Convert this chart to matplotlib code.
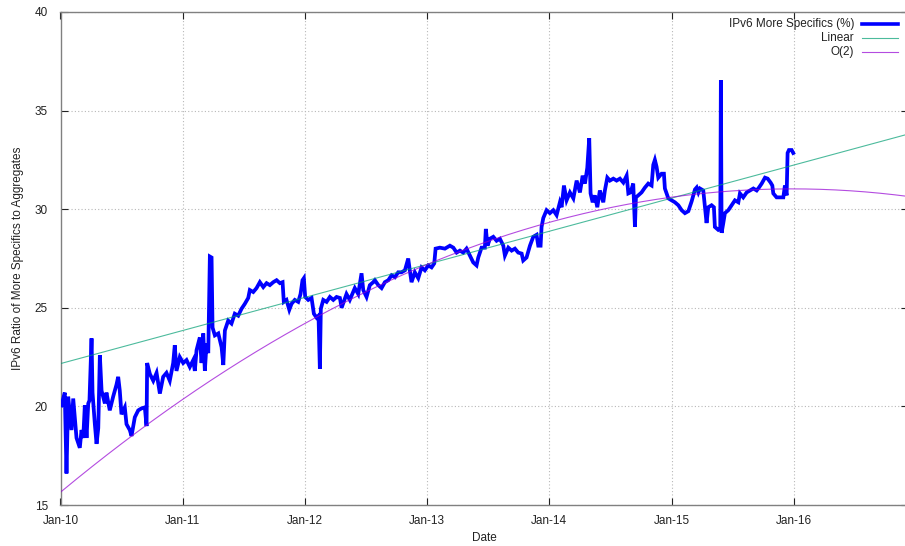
import matplotlib
matplotlib.use("Agg")
import matplotlib.pyplot as plt
import numpy as np
from matplotlib.lines import Line2D

plt.rcParams['font.family'] = ['Liberation Sans', 'DejaVu Sans']

# Ratio of IPv6 more-specific prefixes to aggregates (%), by decimal year
years = [
    2010.008, 2010.035, 2010.049, 2010.063, 2010.090, 2010.104, 2010.131, 2010.158,
    2010.172, 2010.186, 2010.199, 2010.213, 2010.227, 2010.237, 2010.254, 2010.262,
    2010.281, 2010.295, 2010.309, 2010.322, 2010.336, 2010.363, 2010.376, 2010.403,
    2010.431, 2010.458, 2010.472, 2010.485, 2010.499, 2010.526, 2010.540, 2010.567,
    2010.581, 2010.608, 2010.636, 2010.663, 2010.690, 2010.704, 2010.709, 2010.731,
    2010.759, 2010.786, 2010.813, 2010.840, 2010.867, 2010.894, 2010.922, 2010.935,
    2010.949, 2010.976, 2011.004, 2011.031, 2011.058, 2011.086, 2011.099,
    2011.113, 2011.140, 2011.154, 2011.168, 2011.181, 2011.195, 2011.209, 2011.222,
    2011.236, 2011.244, 2011.263, 2011.291, 2011.318, 2011.332, 2011.345, 2011.372,
    2011.399, 2011.426, 2011.454, 2011.481, 2011.508, 2011.536, 2011.549, 2011.577,
    2011.604, 2011.631, 2011.659, 2011.686, 2011.713, 2011.741, 2011.768, 2011.795,
    2011.817, 2011.827, 2011.849, 2011.872, 2011.890, 2011.917, 2011.945, 2011.964,
    2011.980, 2011.991, 2012.002, 2012.027, 2012.054, 2012.073, 2012.095, 2012.111,
    2012.122, 2012.130, 2012.150, 2012.177, 2012.204, 2012.232, 2012.259, 2012.286,
    2012.300, 2012.340, 2012.367, 2012.408, 2012.436, 2012.463, 2012.477, 2012.504,
    2012.531, 2012.559, 2012.572, 2012.600, 2012.627, 2012.654, 2012.682, 2012.709,
    2012.736, 2012.763, 2012.790, 2012.818, 2012.845, 2012.858, 2012.872, 2012.899,
    2012.927, 2012.954, 2012.981, 2013.009, 2013.036, 2013.058, 2013.069, 2013.104,
    2013.145, 2013.186, 2013.214, 2013.241, 2013.268, 2013.295, 2013.322, 2013.349,
    2013.377, 2013.404, 2013.418, 2013.445, 2013.472, 2013.480, 2013.494,
    2013.513, 2013.541, 2013.568, 2013.595, 2013.623, 2013.636, 2013.664, 2013.691,
    2013.718, 2013.745, 2013.773, 2013.786, 2013.813, 2013.841, 2013.868, 2013.895,
    2013.909, 2013.928, 2013.936, 2013.950, 2013.977, 2014.004, 2014.032, 2014.059,
    2014.086, 2014.100, 2014.119, 2014.141, 2014.168, 2014.196, 2014.223, 2014.250,
    2014.272, 2014.291, 2014.310, 2014.326, 2014.337, 2014.354, 2014.372, 2014.392,
    2014.413, 2014.441, 2014.454, 2014.474, 2014.495, 2014.523, 2014.550, 2014.577,
    2014.605, 2014.632, 2014.646, 2014.664, 2014.686, 2014.700, 2014.708,
    2014.727, 2014.754, 2014.782, 2014.809, 2014.836, 2014.850, 2014.863, 2014.877,
    2014.891, 2014.918, 2014.937, 2014.945, 2014.973, 2015.000, 2015.027, 2015.055,
    2015.082, 2015.109, 2015.137, 2015.164, 2015.191, 2015.205, 2015.219, 2015.232,
    2015.259, 2015.273, 2015.286, 2015.300, 2015.327, 2015.346, 2015.354, 2015.382,
    2015.398, 2015.403, 2015.409, 2015.423, 2015.436, 2015.464, 2015.491, 2015.518,
    2015.546, 2015.559, 2015.586, 2015.614, 2015.641, 2015.669, 2015.696, 2015.715,
    2015.737, 2015.764, 2015.786, 2015.810, 2015.824, 2015.832, 2015.859, 2015.886,
    2015.914, 2015.927, 2015.941, 2015.949, 2015.960, 2015.982, 2015.995,
]
ratio = [
    20.05, 20.7, 16.6, 20.5, 18.8, 20.4, 18.4, 17.9,
    18.8, 18.4, 20.05, 18.4, 20.15, 20.3, 23.45, 20.7,
    19.1, 18.1, 18.9, 22.6, 20.8, 20.15, 20.7, 19.8,
    20.5, 21.1, 21.5, 20.8, 19.6, 19.95, 19.1, 18.8,
    18.5, 19.45, 19.8, 19.9, 19.95, 19.0, 22.2, 21.65,
    21.3, 21.7, 20.65, 21.5, 21.7, 21.3, 22.2, 23.1,
    21.8, 22.5, 22.2, 22.35, 22.0, 22.35, 21.8,
    22.85, 23.5, 22.2, 23.7, 21.8, 23.2, 22.7, 27.6,
    27.55, 24.0, 23.6, 23.7, 23.0, 22.1, 23.85, 24.35,
    24.2, 24.7, 24.6, 24.95, 25.2, 25.5, 25.9, 25.8,
    26.0, 26.3, 26.05, 26.25, 26.15, 26.3, 26.4, 26.25,
    26.3, 25.3, 25.4, 24.9, 25.2, 25.4, 25.3, 25.7,
    26.4, 26.5, 25.55, 25.4, 25.5, 24.7, 24.5, 24.6,
    21.9, 24.95, 25.4, 25.3, 25.55, 25.4, 25.55, 25.5,
    25.0, 25.7, 25.4, 26.0, 25.7, 26.75, 25.9, 25.55,
    26.15, 26.3, 26.4, 26.15, 26.0, 26.3, 26.4, 26.65,
    26.55, 26.8, 26.8, 26.9, 27.5, 26.9, 26.3, 26.8,
    26.5, 27.05, 26.9, 27.15, 27.05, 27.25, 28.0, 28.05,
    28.0, 28.15, 28.05, 27.8, 27.9, 27.8, 28.0, 27.65,
    27.3, 27.15, 27.55, 28.05, 28.05, 29.0, 28.15,
    28.5, 28.6, 28.4, 28.5, 28.15, 27.65, 28.05, 27.9,
    28.0, 27.8, 27.75, 27.4, 27.55, 28.15, 28.6, 28.7,
    28.15, 28.15, 29.1, 29.55, 29.95, 29.8, 29.95, 29.7,
    30.35, 30.1, 31.2, 30.45, 30.85, 30.55, 31.45, 30.85,
    31.7, 31.3, 32.1, 33.6, 30.8, 30.35, 30.7, 30.1,
    30.95, 30.35, 30.95, 31.6, 31.45, 31.55, 31.45, 31.55,
    31.35, 31.7, 30.8, 30.85, 31.3, 29.1, 30.6,
    30.7, 30.85, 31.1, 31.3, 31.2, 32.25, 32.5, 32.15,
    31.6, 31.8, 31.8, 31.05, 30.55, 30.45, 30.35, 30.2,
    29.95, 29.8, 29.9, 30.4, 31.0, 31.1, 30.85, 31.05,
    30.95, 30.1, 29.3, 30.1, 30.2, 30.1, 29.1, 28.95,
    29.0, 36.55, 28.8, 29.3, 29.8, 29.95, 30.2, 30.45,
    30.35, 30.8, 30.6, 30.85, 30.95, 31.05, 30.95, 31.1,
    31.3, 31.6, 31.55, 31.35, 31.2, 30.8, 30.6, 30.6,
    30.6, 31.2, 30.7, 32.85, 33.0, 33.0, 32.85,
]

# Fitted trends: linear ends and three points on the quadratic
x_start, x_end = 2010.0, 2016.93
linear_ends = [22.17, 33.8]
quad_years = [2010.0, 2013.0, 2016.93]
quad_vals = [15.65, 27.2, 30.65]

tick_years = [2010, 2011, 2012, 2013, 2014, 2015, 2016]
tick_labels = ['Jan-10', 'Jan-11', 'Jan-12', 'Jan-13', 'Jan-14', 'Jan-15', 'Jan-16']
y_ticks = [15, 20, 25, 30, 35, 40]

fig = plt.figure(figsize=(9.05, 5.46), dpi=100)
ax = fig.add_axes([60.5 / 905, 41 / 546, 847 / 905, 493 / 546])

blue = '#0000ff'
green = '#009e73'
purple = '#9400d3'

xs = np.linspace(x_start, x_end, 400)
lin = np.polyfit([x_start, x_end], linear_ends, 1)
quad = np.polyfit(np.array(quad_years) - 2010, quad_vals, 2)

ax.plot(years, ratio, color=blue, lw=2.7, solid_joinstyle='miter', zorder=3)
ax.plot(xs, np.polyval(lin, xs), color=green, lw=0.8, alpha=0.7, zorder=4)
ax.plot(xs, np.polyval(quad, xs - 2010), color=purple, lw=0.8, alpha=0.7, zorder=4)

ax.set_xlim(x_start, x_end)
ax.set_ylim(15, 40)
ax.set_xticks(tick_years)
ax.set_xticklabels(tick_labels)
ax.set_yticks(y_ticks)

ax.grid(True, color='#b8b8b8', linestyle=(0, (1, 2)), linewidth=0.8)
ax.set_axisbelow(True)
for side in ('left', 'bottom', 'top', 'right'):
    ax.spines[side].set_color('#808080')
    ax.spines[side].set_linewidth(1.0)
ax.tick_params(direction='in', length=5, width=0.8, color='#222222',
               top=True, right=True, labelsize=8.5, labelcolor='#222222')
ax.tick_params(axis='y', pad=9)
ax.tick_params(axis='x', pad=7)

ax.set_xlabel('Date', fontsize=8.5, color='#222222', labelpad=4)
ax.set_ylabel('IPv6 Ratio of More Specifics to Aggregates', fontsize=8.5,
              color='#222222', labelpad=8)

# Key in the top-right corner, labels right-aligned before the samples
entries = [('IPv6 More Specifics (%)', blue, 2.6, 1.0),
           ('Linear', green, 0.8, 0.7),
           ('O(2)', purple, 0.8, 0.7)]
for i, (label, col, lw, a) in enumerate(entries):
    ypix = 24 + 14 * i
    yf = 1 - ypix / 546
    fig.text(854 / 905, yf, label, ha='right', va='center', fontsize=8.5, color='#222222')
    fig.add_artist(Line2D([862 / 905, 898 / 905], [yf, yf], color=col, lw=lw, alpha=a))

fig.savefig('out.png', dpi=100)
